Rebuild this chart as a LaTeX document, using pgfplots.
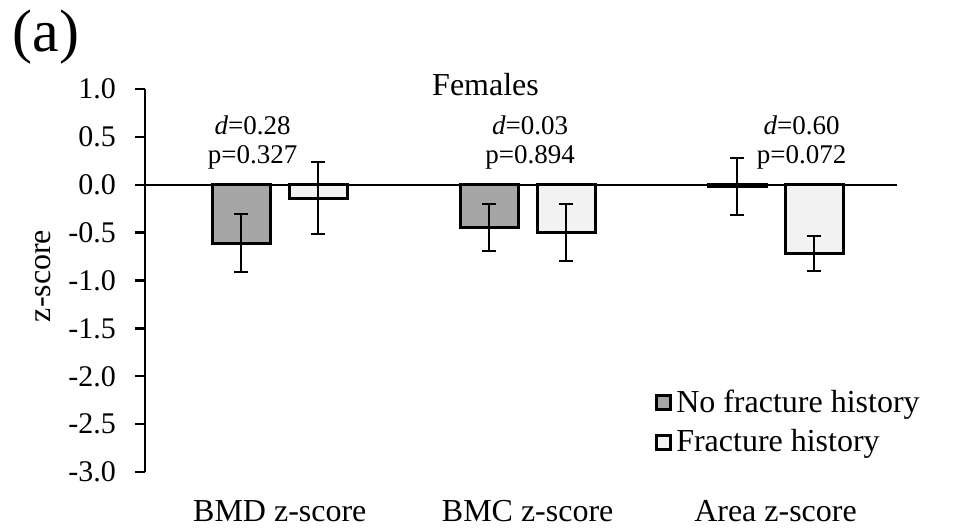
\documentclass[border=0pt]{standalone}
\usepackage{pgfplots}
\pgfplotsset{compat=1.18}
\usepackage{fontspec}
\setmainfont{Liberation Serif}
\definecolor{darkbar}{HTML}{A6A6A6}
\definecolor{lightbar}{HTML}{F2F2F2}
\begin{document}
\begin{tikzpicture}
\begin{axis}[
  at={(0,0)}, anchor=south west,
  scale only axis, width=376pt, height=191.5pt,
  xmin=-0.544, xmax=2.49, ymin=-3, ymax=1,
  clip=false,
  axis y line*=left, axis x line*=bottom,
  x axis line style={draw=none},
  y axis line style={line width=1.2pt},
  ytick={-3,-2.5,...,1},
  yticklabel style={font=\fontsize{15}{18}\selectfont, xshift=-6pt, /pgf/number format/.cd, fixed, fixed zerofill, precision=1, assume math mode=true},
  ytick style={line width=1.2pt, black},
  tick align=outside, major tick length=5pt,
  xtick={0,1,2},
  xticklabels={BMD z-score, BMC z-score, Area z-score},
  xtick style={draw=none},
  xticklabel style={font=\fontsize{16}{19}\selectfont, anchor=base, yshift=-20pt},
  extra y ticks={0}, extra y tick labels={},
  extra y tick style={grid=major, major grid style={black, line width=1pt}},
  ybar, bar width=29pt,
  legend style={at={(axis description cs:0.678,0.225)}, anchor=north west, draw=none, fill=none,
     font=\fontsize{16}{19}\selectfont, row sep=3pt, inner sep=0pt, cells={anchor=west}},
]
\addplot[bar shift=-19.25pt, fill=darkbar, draw=black, line width=1.5pt,
  legend image code/.code={\draw[fill=darkbar, draw=black, line width=1.5pt] (0pt,-3.5pt) rectangle (7pt,3.5pt);},
  error bars/.cd, y dir=both, y explicit,
  error bar style={line width=1.1pt, black},
  error mark options={rotate=90, mark size=3.5pt, line width=1.1pt, black}]
  coordinates {(0,-0.61) +- (0,0.305) (1,-0.45) +- (0,0.245) (2,-0.02) +- (0,0.30)};
\addlegendentry{No fracture history}
\addplot[bar shift=19.25pt, fill=lightbar, draw=black, line width=1.5pt,
  legend image code/.code={\draw[fill=lightbar, draw=black, line width=1.5pt] (0pt,-3.5pt) rectangle (7pt,3.5pt);},
  error bars/.cd, y dir=both, y explicit,
  error bar style={line width=1.1pt, black},
  error mark options={rotate=90, mark size=3.5pt, line width=1.1pt, black}]
  coordinates {(0,-0.14) +- (0,0.375) (1,-0.50) +- (0,0.30) (2,-0.72) +- (0,0.185)};
\addlegendentry{Fracture history}
\node[font=\fontsize{16}{19}\selectfont] at (axis cs:0.83,1.042) {Females};
\node[font=\fontsize{13.5}{16}\selectfont] at (axis cs:-0.11,0.62) {\textit{d}=0.28};
\node[font=\fontsize{13.5}{16}\selectfont] at (axis cs:-0.11,0.29) {p=0.327};
\node[font=\fontsize{13.5}{16}\selectfont] at (axis cs:1.01,0.62) {\textit{d}=0.03};
\node[font=\fontsize{13.5}{16}\selectfont] at (axis cs:1.01,0.29) {p=0.894};
\node[font=\fontsize{13.5}{16}\selectfont] at (axis cs:2.105,0.62) {\textit{d}=0.60};
\node[font=\fontsize{13.5}{16}\selectfont] at (axis cs:2.105,0.29) {p=0.072};
\end{axis}
\node[font=\fontsize{30}{34}\selectfont] at (-49.5pt,217.5pt) {(a)};
\node[font=\fontsize{16}{19}\selectfont, rotate=90] at (-51pt,98pt) {z-score};
\path[use as bounding box] (-72.5pt,-28.5pt) rectangle (410.5pt,236pt);
\end{tikzpicture}
\end{document}
